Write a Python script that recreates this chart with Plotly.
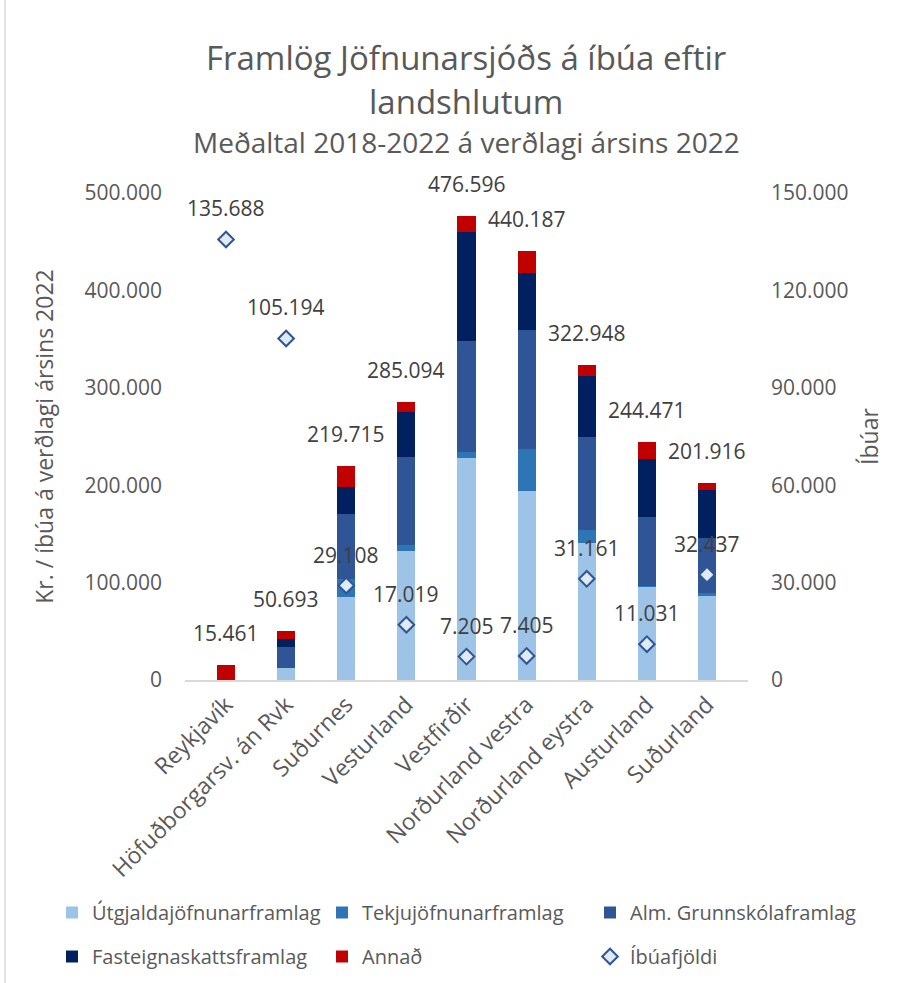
import plotly.graph_objects as go

categories = ["Reykjavík", "Höfuðborgarsv. án Rvk", "Suðurnes", "Vesturland", "Vestfirðir",
              "Norðurland vestra", "Norðurland eystra", "Austurland", "Suðurland"]
utgjalda = [0, 12300, 85000, 132000, 228000, 194000, 141000, 96000, 86000]
tekju = [0, 0, 19000, 7000, 6200, 43000, 13000, 500, 3500]
grunnskola = [0, 21200, 66000, 89500, 113500, 122000, 95000, 71000, 55800]
fasteigna = [0, 8200, 28500, 46500, 112500, 59200, 63300, 59800, 49600]
annad = [15461, 9000, 21215, 10094, 16396, 21987, 10648, 17171, 7016]
totals = [15461, 50693, 219715, 285094, 476596, 440187, 322948, 244471, 201916]
ibuar = [135688, 105194, 29108, 17019, 7205, 7405, 31161, 11031, 32437]

def fmt(v):
    return f"{v:,}".replace(",", ".")

grey = "#595959"
font_family = "'Open Sans', 'Noto Sans', sans-serif"

W, H = 904, 983
ml, mr, mt, mb = 185, 156, 193, 303
pw = W - ml - mr
ph = H - mt - mb

def px_x(px):
    return (px - ml) / pw

def px_y(py):
    return (H - mb - py) / ph

fig = go.Figure()
# (name, values, colour, legend column)
series = [
    ("Útgjaldajöfnunarframlag", utgjalda, "#9DC3E6", "legend"),
    ("Tekjujöfnunarframlag", tekju, "#2E75B6", "legend2"),
    ("Alm. Grunnskólaframlag", grunnskola, "#2F5597", "legend3"),
    ("Fasteignaskattsframlag", fasteigna, "#002060", "legend"),
    ("Annað", annad, "#C00000", "legend2"),
]
for name, vals, col, lg in series:
    fig.add_trace(go.Bar(x=categories, y=vals, name=name, marker_color=col,
                         marker_line_width=0, hoverinfo="skip", legend=lg,
                         legendgroup=name))

fig.add_trace(go.Scatter(x=categories, y=ibuar, name="Íbúafjöldi", yaxis="y2",
                         mode="markers", legend="legend3", legendgroup="ibuar",
                         marker=dict(symbol="diamond", size=12, color="#DEEBF7",
                                     line=dict(color="#2F5597", width=2))))

for c, t in zip(categories, totals):
    fig.add_annotation(x=c, y=t, xref="x", yref="y", text=fmt(t), showarrow=False,
                       yshift=32, font=dict(size=21, color="#404040", family=font_family))
for c, p in zip(categories, ibuar):
    fig.add_annotation(x=c, y=p, xref="x", yref="y2", text=fmt(p), showarrow=False,
                       yshift=31, font=dict(size=21, color="#404040", family=font_family))

fig.add_annotation(xref="paper", yref="paper", x=px_x(466), y=px_y(57), yanchor="middle",
                   text="Framlög Jöfnunarsjóðs á íbúa eftir", showarrow=False,
                   font=dict(size=33, color=grey, family=font_family))
fig.add_annotation(xref="paper", yref="paper", x=px_x(466), y=px_y(101), yanchor="middle",
                   text="landshlutum", showarrow=False,
                   font=dict(size=33, color=grey, family=font_family))
fig.add_annotation(xref="paper", yref="paper", x=px_x(466), y=px_y(142), yanchor="middle",
                   text="Meðaltal 2018-2022 á verðlagi ársins 2022", showarrow=False,
                   font=dict(size=28, color=grey, family=font_family))

fig.add_shape(type="line", xref="paper", yref="paper",
              x0=px_x(5), x1=px_x(5), y0=px_y(983), y1=px_y(0),
              line=dict(color="#D9D9D9", width=1.5))

leg_common = dict(orientation="v", traceorder="grouped", yanchor="top", xanchor="left",
                  font=dict(size=20, color=grey, family=font_family),
                  tracegroupgap=15, itemsizing="constant", bgcolor="rgba(0,0,0,0)")

fig.update_layout(
    width=W, height=H,
    barmode="stack", bargap=0.7,
    separators=",.",
    paper_bgcolor="white", plot_bgcolor="white",
    margin=dict(l=ml, r=mr, t=mt, b=mb, autoexpand=False),
    font=dict(family=font_family, color=grey, size=20),
    showlegend=True,
    legend=dict(x=px_x(52), y=px_y(893), **leg_common),
    legend2=dict(x=px_x(322), y=px_y(893), **leg_common),
    legend3=dict(x=px_x(590), y=px_y(893), **leg_common),
    xaxis=dict(tickangle=-45, showgrid=False, showline=True, linecolor="#D9D9D9",
               linewidth=2, ticks="", tickfont=dict(size=23, color=grey)),
    yaxis=dict(range=[0, 500000], dtick=100000, tickformat=",d", showgrid=False,
               zeroline=False, showline=False, ticks="", ticklabelstandoff=22,
               tickfont=dict(size=21, color=grey),
               title=dict(text="Kr. / íbúa á verðlagi ársins 2022", standoff=24,
                          font=dict(size=23, color=grey))),
    yaxis2=dict(range=[0, 150000], dtick=30000, tickformat=",d", overlaying="y",
                side="right", showgrid=False, zeroline=False, showline=False, ticks="",
                ticklabelstandoff=22, tickfont=dict(size=21, color=grey),
                title=dict(text="Íbúar", standoff=14, font=dict(size=23, color=grey))),
)

fig.write_html("out.html", config={"displayModeBar": False},
               post_script="document.body.style.margin='0';")
